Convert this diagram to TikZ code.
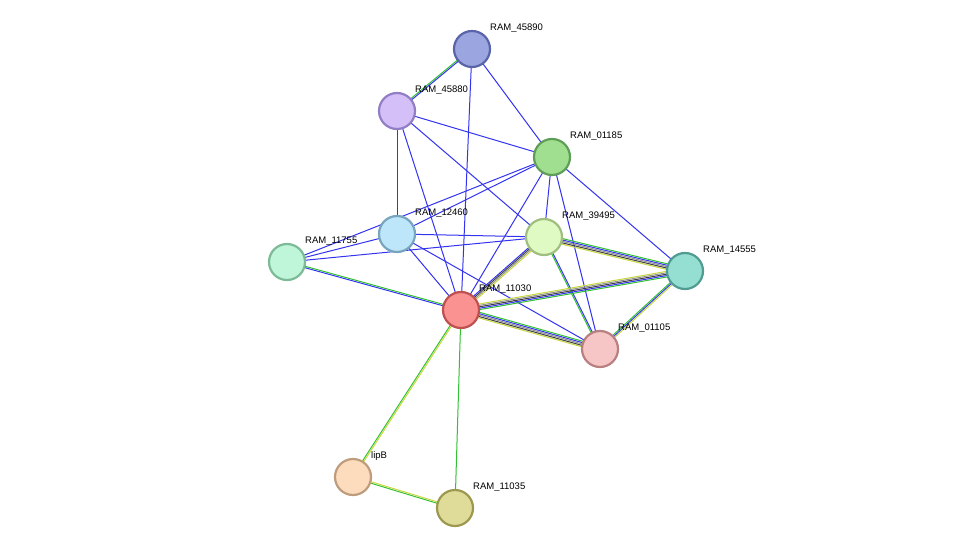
\documentclass[tikz,border=0pt]{standalone}
\usepackage{fontspec}
\setmainfont{Liberation Sans}
\usetikzlibrary{calc}
\begin{document}
\begin{tikzpicture}[x=1pt,y=-1pt,
  prot/.style={circle,minimum size=36pt,inner sep=0pt,line width=2.2pt},
  lbl/.style={anchor=west,font=\fontsize{9.5}{11}\selectfont,inner sep=0pt}]
\useasboundingbox (0,0) rectangle (976,553);
\definecolor{eb}{HTML}{3333F0}\definecolor{eg}{HTML}{33C033}
\definecolor{ey}{HTML}{C8D840}\definecolor{ek}{HTML}{404040}\definecolor{ea}{HTML}{909090}
\coordinate (n45890) at (472,49);
\coordinate (n45880) at (397,111);
\coordinate (n01185) at (552,157);
\coordinate (n12460) at (397,234);
\coordinate (n11755) at (287,262);
\coordinate (n39495) at (544,237);
\coordinate (n14555) at (685,271);
\coordinate (n11030) at (461,310);
\coordinate (n01105) at (600,349);
\coordinate (nlipB) at (353,477);
\coordinate (n11035) at (455,508);
\newcommand\medge[4]{%
  \foreach \c [count=\i] in {#4}{%
    \pgfmathsetmacro\off{(\i-1-(#3-1)/2)*1.4}%
    \draw[\c,line width=1pt] ($(#1)!\off pt!90:(#2)$) -- ($(#2)!\off pt!-90:(#1)$);}}
\medge{n45890}{n45880}{2}{eg,eb}
\medge{n45890}{n11030}{1}{eb}
\medge{n45890}{n01185}{1}{eb}
\medge{n45880}{n01185}{1}{eb}
\medge{n45880}{n12460}{1}{eb}
\medge{n45880}{n11030}{1}{eb}
\medge{n45880}{n39495}{1}{eb}
\medge{n01185}{n12460}{1}{eb}
\medge{n01185}{n11755}{1}{eb}
\medge{n01185}{n11030}{1}{eb}
\medge{n01185}{n39495}{1}{eb}
\medge{n01185}{n01105}{1}{eb}
\medge{n01185}{n14555}{1}{eb}
\medge{n12460}{n11755}{1}{eb}
\medge{n12460}{n39495}{1}{eb}
\medge{n12460}{n11030}{1}{eb}
\medge{n12460}{n01105}{1}{eb}
\medge{n11755}{n39495}{1}{eb}
\medge{n11755}{n11030}{2}{eb,eg}
\medge{n39495}{n11030}{4}{eb,ek,ea,ey}
\medge{n39495}{n14555}{5}{ey,ek,ea,eb,eg}
\medge{n39495}{n01105}{2}{eg,eb}
\medge{n11030}{n14555}{5}{eg,eb,ek,ea,ey}
\medge{n11030}{n01105}{5}{ey,ek,ea,eb,eg}
\medge{n14555}{n01105}{3}{eg,eb,ey}
\medge{n11030}{nlipB}{2}{eg,ey}
\medge{n11030}{n11035}{1}{eg}
\medge{nlipB}{n11035}{2}{eg,ey}
\node[prot,fill={rgb,255:red,155;green,165;blue,224},draw={rgb,255:red,90;green,100;blue,168}] (a) at (n45890) {};
\node[prot,fill={rgb,255:red,212;green,191;blue,248},draw={rgb,255:red,146;green,126;blue,196}] (b) at (n45880) {};
\node[prot,fill={rgb,255:red,159;green,223;blue,143},draw={rgb,255:red,96;green,158;blue,88}] (c) at (n01185) {};
\node[prot,fill={rgb,255:red,190;green,230;blue,250},draw={rgb,255:red,120;green,165;blue,190}] (d) at (n12460) {};
\node[prot,fill={rgb,255:red,191;green,246;blue,218},draw={rgb,255:red,124;green,186;blue,152}] (e) at (n11755) {};
\node[prot,fill={rgb,255:red,224;green,250;blue,196},draw={rgb,255:red,160;green,190;blue,128}] (f) at (n39495) {};
\node[prot,fill={rgb,255:red,148;green,222;blue,210},draw={rgb,255:red,80;green,156;blue,146}] (g) at (n14555) {};
\node[prot,fill={rgb,255:red,250;green,146;blue,146},draw={rgb,255:red,190;green,80;blue,80}] (h) at (n11030) {};
\node[prot,fill={rgb,255:red,246;green,198;blue,198},draw={rgb,255:red,184;green,128;blue,128}] (i) at (n01105) {};
\node[prot,fill={rgb,255:red,253;green,220;blue,190},draw={rgb,255:red,190;green,156;blue,124}] (j) at (nlipB) {};
\node[prot,fill={rgb,255:red,222;green,220;blue,152},draw={rgb,255:red,156;green,152;blue,80}] (k) at (n11035) {};
\foreach \n/\t in {n45890/RAM\_45890,n45880/RAM\_45880,n01185/RAM\_01185,n12460/RAM\_12460,n11755/RAM\_11755,n39495/RAM\_39495,n14555/RAM\_14555,n11030/RAM\_11030,n01105/RAM\_01105,nlipB/lipB,n11035/RAM\_11035}
  \node[lbl] (l\n) at ($(\n)+(18,-21)$) {\t};
\end{tikzpicture}
\end{document}
